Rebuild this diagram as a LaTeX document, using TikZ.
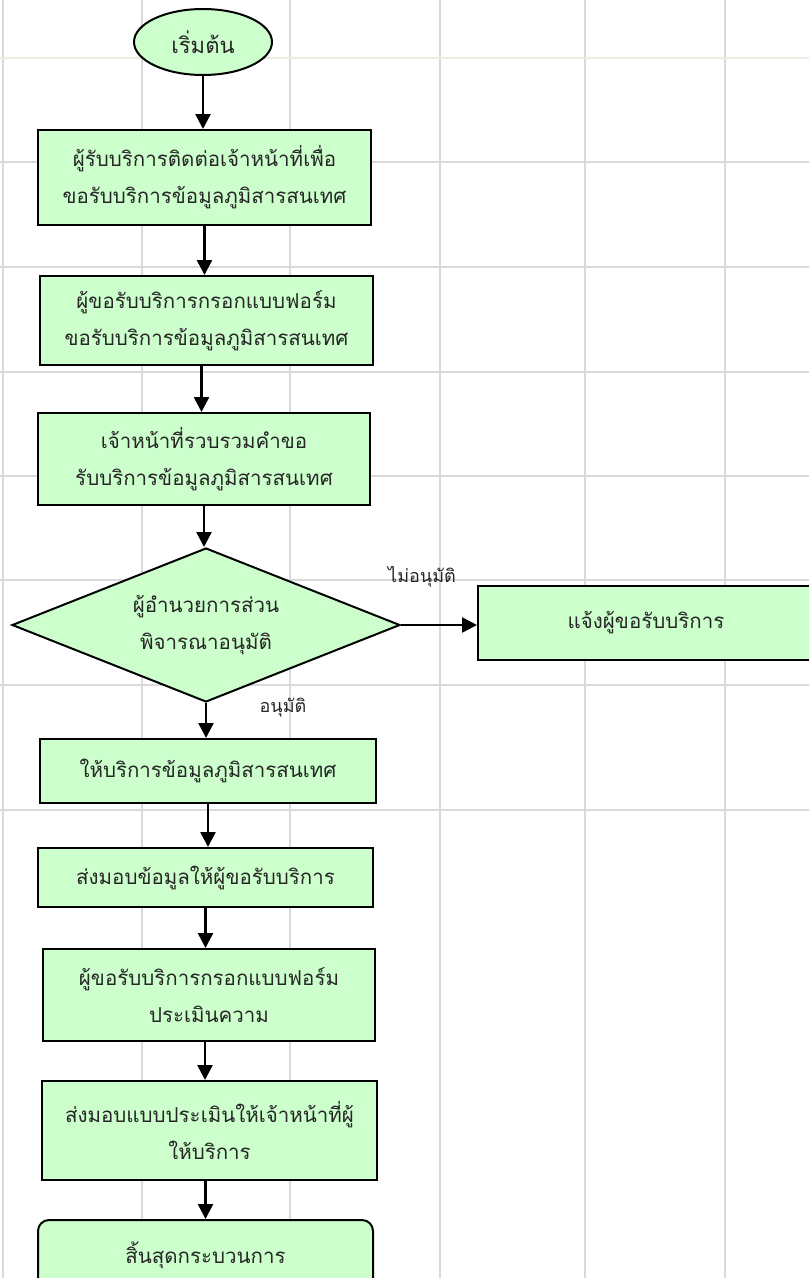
\documentclass[tikz,border=0pt]{standalone}
\usepackage{fontspec}
\usepackage{tikz}
\usetikzlibrary{shapes.geometric}
\usetikzlibrary{arrows.meta}

\newfontfamily\thaifont[Script=Thai]{Loma}

\definecolor{boxgreen}{HTML}{CCFFCC}
\definecolor{gridgray}{HTML}{D9D9D9}
\definecolor{gridbeige}{HTML}{EDEDE3}

\begin{document}
\begin{tikzpicture}[x=1pt, y=-1pt, >={Triangle[length=15pt, width=15pt]},
    procbox/.style={draw, line width=2pt, fill=boxgreen, align=center,
        text=black!85, inner sep=0pt,
        font=\thaifont\fontsize{20.5pt}{37pt}\selectfont},
    smalllabel/.style={text=black!85, inner sep=0pt,
        font=\thaifont\fontsize{18pt}{22pt}\selectfont}]
    \clip (0,0) rectangle (809,1278);
    \fill[white] (0,0) rectangle (809,1278);

    % Background grid
    \foreach \gx in {3,142,290,440,585,725}
        \draw[gridgray, line width=2pt] (\gx,0) -- (\gx,1278);
    \foreach \gy in {162,267,372,476,580,685,810}
        \draw[gridgray, line width=2pt] (0,\gy) -- (809,\gy);
    \draw[gridbeige, line width=2pt] (0,58) -- (809,58);

    % Flow nodes
    \node[procbox, ellipse, minimum width=138pt, minimum height=66pt,
        font=\thaifont\fontsize{22pt}{37pt}\selectfont] (start) at (203,42) {เริ่มต้น};
    \node[procbox, minimum width=333pt, minimum height=95pt] (request) at (204.5,177.5)
        {ผู้รับบริการติดต่อเจ้าหน้าที่เพื่อ\\ขอรับบริการข้อมูลภูมิสารสนเทศ};
    \node[procbox, minimum width=333pt, minimum height=89pt] (form) at (206.5,320.5)
        {ผู้ขอรับบริการกรอกแบบฟอร์ม\\ขอรับบริการข้อมูลภูมิสารสนเทศ};
    \node[procbox, minimum width=332pt, minimum height=92pt] (collect) at (204,459)
        {เจ้าหน้าที่รวบรวมคำขอ\\รับบริการข้อมูลภูมิสารสนเทศ};
    \node[procbox, diamond, aspect=2.52, minimum width=388pt, minimum height=154pt] (decide) at (206,625)
        {ผู้อำนวยการส่วน\\พิจารณาอนุมัติ};
    \node[procbox, minimum width=336pt, minimum height=74pt] (notify) at (646,623)
        {แจ้งผู้ขอรับบริการ};
    \node[procbox, minimum width=336pt, minimum height=64pt] (provide) at (208,771)
        {ให้บริการข้อมูลภูมิสารสนเทศ};
    \node[procbox, minimum width=335pt, minimum height=59pt] (deliver) at (205.5,877.5)
        {ส่งมอบข้อมูลให้ผู้ขอรับบริการ};
    \node[procbox, minimum width=332pt, minimum height=92pt] (evalform) at (209,995)
        {ผู้ขอรับบริการกรอกแบบฟอร์ม\\ประเมินความ};
    \node[procbox, minimum width=335pt, minimum height=99pt] (evalsend) at (209.5,1130.5)
        {ส่งมอบแบบประเมินให้เจ้าหน้าที่ผู้\\ให้บริการ};
    \node[procbox, rounded corners=11pt, minimum width=335pt, minimum height=70pt] (finish) at (205.5,1255)
        {สิ้นสุดกระบวนการ};

    % Connectors
    \draw[->, line width=2.5pt] (start) -- (start |- request.north);
    \draw[->, line width=2.5pt] (request) -- (request |- form.north);
    \draw[->, line width=2.5pt] ([xshift=-5pt]form.south) -- ([xshift=-5pt]form.south |- collect.north);
    \draw[->, line width=2.5pt] (collect) -- (collect |- decide.north);
    \draw[->, line width=2.5pt] (decide.south) -- (decide.south |- provide.north);
    \draw[->, line width=2.5pt] (decide.east) -- (notify.west |- decide.east);
    \draw[->, line width=2.5pt] (provide) -- (provide |- deliver.north);
    \draw[->, line width=2.5pt] (deliver) -- (deliver |- evalform.north);
    \draw[->, line width=2.5pt] ([xshift=-4pt]evalform.south) -- ([xshift=-4pt]evalform.south |- evalsend.north);
    \draw[->, line width=2.5pt] ([xshift=-4pt]evalsend.south) -- ([xshift=-4pt]evalsend.south |- finish.north);

    % Decision labels
    \node[smalllabel] (nolabel) at (422,577) {ไม่อนุมัติ};
    \node[smalllabel] (yeslabel) at (283,708) {อนุมัติ};
\end{tikzpicture}
\end{document}
